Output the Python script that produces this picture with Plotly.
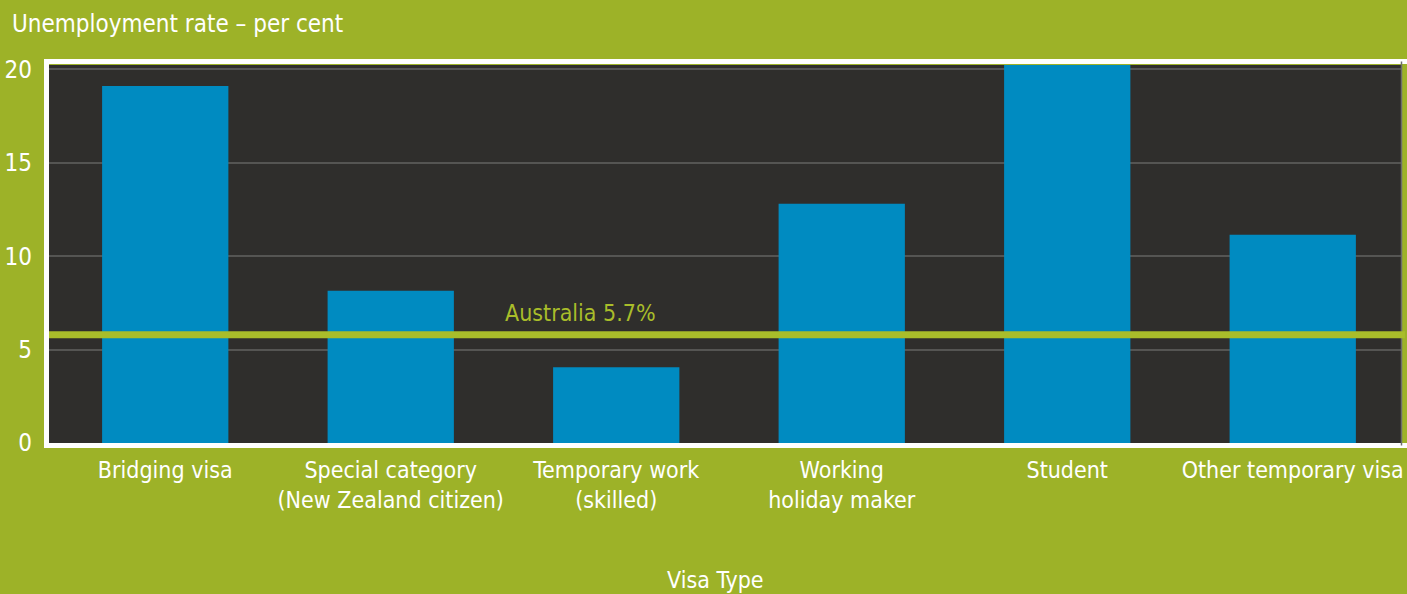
import plotly.graph_objects as go

categories = ["Bridging visa", "Special category<br>(New Zealand citizen)", "Temporary work<br>(skilled)",
              "Working<br>holiday maker", "Student", "Other temporary visa"]
rates = [19.1, 8.15, 4.05, 12.8, 20.5, 11.15]
australia_rate = 5.8
australia_label = "Australia 5.7%"
y_ticks = [0, 5, 10, 15, 20]

GREEN = "#9db228"
LINE_GREEN = "#a9bd2a"
DARK = "#2f2e2c"
BLUE = "#008bc1"
FONT = "Liberation Sans Narrow, Arial Narrow, DejaVu Sans Condensed, sans-serif"

W, H = 1407, 594
ml, mr, mt, mb = 49, 3, 65, 151
pw = W - ml - mr
ph = H - mt - mb
cat_px = 226.0
x_start = -0.5 - 3.5 / cat_px
x_end = x_start + pw / cat_px

fig = go.Figure()
fig.add_trace(go.Bar(x=categories, y=rates, marker=dict(color=BLUE, line=dict(width=0)),
                     hoverinfo="x+y"))

fig.update_layout(
    width=W, height=H,
    margin=dict(l=ml, r=mr, t=mt, b=mb, pad=0),
    paper_bgcolor=GREEN, plot_bgcolor=DARK,
    bargap=0.44, showlegend=False,
    font=dict(family=FONT, color="white", size=23),
    xaxis=dict(range=[x_start, x_end], showgrid=False, zeroline=False, showline=False, ticks="",
               tickfont=dict(size=23, color="white"), ticklabelstandoff=11),
    yaxis=dict(range=[0, 20.23], tickvals=y_ticks, showgrid=True, gridcolor="#555553", gridwidth=2,
               zeroline=False, showline=False, ticks="", ticklabelstandoff=16,
               tickfont=dict(size=24, color="white")),
)

# white frame around the plot area (right side runs off the page, as in the reference)
fig.add_shape(type="rect", xref="paper", yref="paper",
              x0=-2.5 / pw, x1=1 + 12 / pw, y0=-2.5 / ph, y1=1 + 3.5 / ph,
              line=dict(color="white", width=5), fillcolor="rgba(0,0,0,0)", layer="above")
fig.add_shape(type="line", xref="paper", yref="paper",
              x0=1 + 0.5 / pw, x1=1 + 0.5 / pw, y0=-2.5 / ph, y1=1 + 3.5 / ph,
              line=dict(color="#6e6e6c", width=1.5), layer="above")

# Australia reference line
fig.add_shape(type="line", xref="paper", yref="y", x0=0, x1=1 + 4 / pw,
              y0=australia_rate, y1=australia_rate, line=dict(color=LINE_GREEN, width=7), layer="above")
fig.add_annotation(x=(582 - ml) / pw, xref="paper", y=australia_rate, yref="y", yshift=22,
                   text=australia_label, showarrow=False,
                   font=dict(size=23, color=LINE_GREEN, family=FONT))

fig.add_annotation(x=-ml / pw + 10 / pw, xref="paper", xanchor="left", y=1 + (mt - 24) / ph, yref="paper",
                   yanchor="middle", text="Unemployment rate \u2013 per cent", showarrow=False,
                   font=dict(size=24, color="white", family=FONT))
fig.add_annotation(x=(717 - ml) / pw, xref="paper", y=-(580 - mt - ph) / ph, yref="paper",
                   yanchor="middle", text="Visa Type", showarrow=False,
                   font=dict(size=23, color="white", family=FONT))

fig.write_html("out.html", config={"displayModeBar": False})
with open("out.html", encoding="utf-8") as f:
    html = f.read()
html = html.replace("<head>", "<head><style>html,body{margin:0;padding:0;overflow:hidden;}</style>", 1)
with open("out.html", "w", encoding="utf-8") as f:
    f.write(html)
